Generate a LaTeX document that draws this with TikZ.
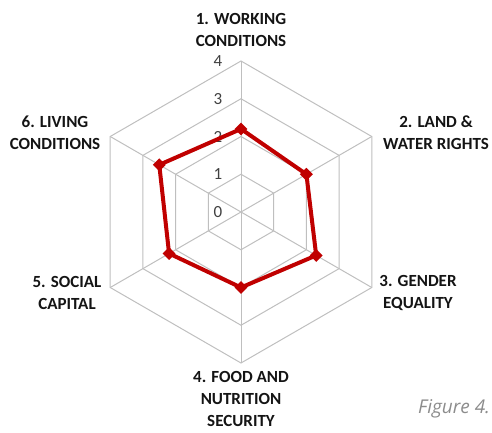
\documentclass[tikz,border=0pt]{standalone}
\usepackage{fontspec}
\setmainfont{Carlito}
\newfontfamily\figfont{Open Sans}
\usetikzlibrary{shapes.geometric}
\definecolor{gridgray}{HTML}{BFBFBF}
\definecolor{datared}{HTML}{C00000}
\definecolor{numgray}{HTML}{404040}
\definecolor{catblack}{HTML}{141414}
\definecolor{figgray}{HTML}{8C8C8C}
\begin{document}
\begin{tikzpicture}[x=1pt,y=1pt,
  cat/.style={font=\fontsize{17}{22}\selectfont\bfseries, align=center, text=catblack, inner sep=0},
  num/.style={font=\fontsize{17}{20}\selectfont, text=numgray, inner sep=0},
  gridline/.style={draw=gridgray, line width=1pt},
  dataline/.style={draw=datared, line width=4pt, line join=round},
  marker/.style={diamond, fill=datared, minimum size=13pt, inner sep=0pt}]
\useasboundingbox (0,0) rectangle (492,432);
\clip (0,0) rectangle (492,432);
\coordinate (O) at (241,220);
% grid hexagons
\foreach \r in {1,2,3,4}{
  \draw[gridline] (O) +(90:\r*37.75) -- +(30:\r*37.75) -- +(-30:\r*37.75) -- +(-90:\r*37.75) -- +(-150:\r*37.75) -- +(150:\r*37.75) -- cycle;
}
% spokes
\foreach \a/\n in {90/s1,30/s2,-30/s3,-90/s4,-150/s5,150/s6}{
  \path (O) ++(\a:151) coordinate (\n);
  \draw[gridline] (O) -- (\n);
}
% scale labels
\node[num] (n0) at (218,220) {0};
\node[num] (n1) at (218,257.75) {1};
\node[num] (n2) at (218,295.5) {2};
\node[num] (n3) at (218,333.25) {3};
\node[num] (n4) at (218,371) {4};
% data
\path (O) ++(90:2.2*37.75) node[marker] (p1) {};
\path (O) ++(30:2.0*37.75) node[marker] (p2) {};
\path (O) ++(-30:2.3*37.75) node[marker] (p3) {};
\path (O) ++(-90:2.0*37.75) node[marker] (p4) {};
\path (O) ++(-150:2.2*37.75) node[marker] (p5) {};
\path (O) ++(150:2.5*37.75) node[marker] (p6) {};
\draw[dataline] (p1.center) -- (p2.center) -- (p3.center) -- (p4.center) -- (p5.center) -- (p6.center) -- cycle;
% category labels
\node[cat] (c1) at (241,402) {1. WORKING\\CONDITIONS};
\node[cat] (c2) at (436,299) {2. LAND \&\\WATER RIGHTS};
\node[cat] (c3) at (418,139.5) {3. GENDER\\EQUALITY};
\node[cat, font=\fontsize{17}{22}\selectfont\bfseries] (c4) at (241,33) {4. FOOD AND\\NUTRITION\\SECURITY};
\node[cat] (c5) at (67,139.5) {5. SOCIAL\\CAPITAL};
\node[cat] (c6) at (55,299.5) {6. LIVING\\CONDITIONS};
\node[anchor=base west, inner sep=0, font=\figfont\itshape\fontsize{19}{22}\selectfont, text=figgray] (fig) at (418,19) {Figure 4.};
\end{tikzpicture}
\end{document}
